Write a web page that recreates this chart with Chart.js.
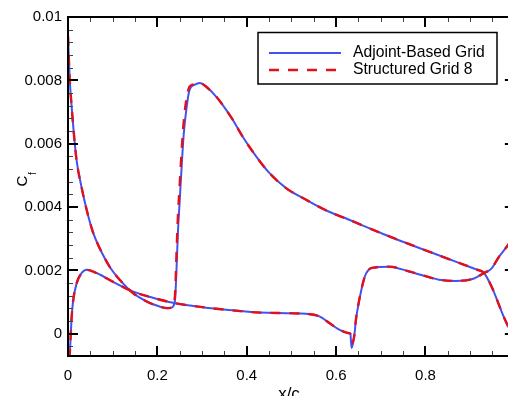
<!DOCTYPE html>
<html>
<head>
<meta charset="utf-8">
<script src="https://cdn.jsdelivr.net/npm/chart.js@4.4.1/dist/chart.umd.min.js"></script>
<style>
  html, body { margin: 0; padding: 0; background: #fff; overflow: hidden; }
  #wrap { width: 508px; height: 396px; overflow: hidden; position: relative; }
  #inner { position: absolute; left: 0; top: 0; width: 530px; height: 396px; }
</style>
</head>
<body>
<div id="wrap"><div id="inner"><canvas id="cf"></canvas></div></div>
<script>
// x/c stations and Cf values
const upperX = [0, 0.004, 0.008, 0.012, 0.019, 0.030, 0.042, 0.056, 0.071, 0.094, 0.116, 0.146, 0.176, 0.205, 0.222, 0.230, 0.236, 0.240, 0.243, 0.246, 0.250, 0.254, 0.259, 0.265, 0.272, 0.283, 0.295, 0.310, 0.332, 0.354, 0.369, 0.391, 0.421, 0.451, 0.488, 0.533, 0.577, 0.629, 0.704, 0.801, 0.875, 0.912, 0.931, 0.948, 0.963, 0.975, 1.0];
const upperAdjoint = [0.0094, 0.0080, 0.0072, 0.0065, 0.0055, 0.00465, 0.0039, 0.0032, 0.0027, 0.0021, 0.0017, 0.00128, 0.00102, 0.00086, 0.00081, 0.00082, 0.00088, 0.00115, 0.0021, 0.0032, 0.0042, 0.0052, 0.0063, 0.0071, 0.0077, 0.00786, 0.00792, 0.00779, 0.00748, 0.00707, 0.00675, 0.00622, 0.0056, 0.00507, 0.0046, 0.00423, 0.0039, 0.0036, 0.00316, 0.00263, 0.00224, 0.00204, 0.00192, 0.00149, 0.00097, 0.00054, -0.0002];
const upperStructured = [0.0094, 0.0080, 0.0072, 0.0065, 0.0055, 0.00465, 0.0039, 0.0032, 0.0027, 0.0021, 0.0017, 0.00128, 0.00102, 0.00086, 0.00081, 0.00082, 0.00090, 0.00135, 0.0026, 0.0037, 0.0047, 0.0057, 0.0067, 0.0074, 0.0078, 0.00788, 0.00792, 0.00779, 0.00748, 0.00707, 0.00675, 0.00622, 0.0056, 0.00507, 0.0046, 0.00423, 0.0039, 0.0036, 0.00316, 0.00263, 0.00224, 0.00204, 0.00192, 0.00149, 0.00097, 0.00054, -0.0002];

const lowerX = [0, 0.0045, 0.0083, 0.0118, 0.0194, 0.0306, 0.0417, 0.064, 0.101, 0.146, 0.190, 0.235, 0.280, 0.354, 0.429, 0.533, 0.5625, 0.585, 0.607, 0.629, 0.632, 0.6346, 0.6406, 0.6444, 0.652, 0.660, 0.667, 0.680, 0.719, 0.763, 0.815, 0.830, 0.868, 0.905, 0.931, 0.947, 0.965, 0.982, 1.0];
const lowerAdjoint = [-0.0014, -0.0005, 0.00055, 0.00107, 0.0016, 0.00192, 0.00202, 0.00192, 0.00164, 0.00133, 0.00114, 0.00098, 0.00088, 0.00076, 0.00067, 0.00063, 0.00055, 0.00034, 0.00013, 0.00002, 0.0, -0.00045, -0.00008, 0.00044, 0.00107, 0.0016, 0.0019, 0.00208, 0.00212, 0.00197, 0.00176, 0.00171, 0.00167, 0.00173, 0.00192, 0.00205, 0.00244, 0.00275, 0.0031];
const lowerStructured = [-0.0014, -0.0005, 0.00055, 0.00107, 0.0016, 0.00192, 0.00202, 0.00192, 0.00164, 0.00133, 0.00114, 0.00098, 0.00088, 0.00076, 0.00067, 0.00063, 0.00055, 0.00034, 0.00013, 0.00002, 0.0, -0.0003, -0.00006, 0.00046, 0.00109, 0.0016, 0.0019, 0.00208, 0.00212, 0.00197, 0.00176, 0.00171, 0.00167, 0.00173, 0.00192, 0.00205, 0.00244, 0.00275, 0.0031];

const seriesNames = ['Adjoint-Based Grid', 'Structured Grid 8'];
const xTickValues = [0, 0.2, 0.4, 0.6, 0.8, 1];
const yTickValues = [0, 0.002, 0.004, 0.006, 0.008, 0.01];

const BLUE = '#4352ee';
const RED = '#e3101c';
const FONT = '"Liberation Sans", Arial, sans-serif';

const pts = (xs, ys) => xs.map((x, i) => ({ x: x, y: ys[i] }));

function line(label, data, color, dash, order, inLegend) {
    return {
        label: label,
        data: data,
        showLine: true,
        borderColor: color,
        backgroundColor: color,
        borderWidth: dash ? 2.4 : 2,
        borderDash: dash || [],
        pointRadius: 0,
        cubicInterpolationMode: 'monotone',
        fill: false,
        order: order,
        inLegend: inLegend
    };
}

// frame, inward ticks (major + minor) on all four sides, axis titles, legend box
const tecplotFrame = {
    id: 'tecplotFrame',
    afterDraw(chart) {
        const ctx = chart.ctx;
        const a = chart.chartArea;
        const xs = chart.scales.x, ys = chart.scales.y;
        ctx.save();

        // minor ticks
        ctx.strokeStyle = '#444';
        ctx.lineWidth = 1;
        ctx.beginPath();
        for (let v = 0.05; v < 1; v += 0.05) {
            if (Math.abs(v / 0.2 - Math.round(v / 0.2)) < 1e-6) continue;
            const px = Math.round(xs.getPixelForValue(v)) + 0.5;
            ctx.moveTo(px, a.bottom); ctx.lineTo(px, a.bottom - 5);
            ctx.moveTo(px, a.top); ctx.lineTo(px, a.top + 5);
        }
        for (let k = -1; k < 25; k++) {
            if (k % 5 === 0) continue;
            const v = k * 0.0004;
            const py = Math.round(ys.getPixelForValue(v)) + 0.5;
            if (py > a.bottom || py < a.top) continue;
            ctx.moveTo(a.left, py); ctx.lineTo(a.left + 5, py);
            ctx.moveTo(a.right, py); ctx.lineTo(a.right - 5, py);
        }
        ctx.stroke();

        // major ticks
        ctx.strokeStyle = '#000';
        ctx.lineWidth = 2;
        ctx.beginPath();
        xTickValues.forEach(v => {
            const px = Math.round(xs.getPixelForValue(v));
            ctx.moveTo(px, a.bottom); ctx.lineTo(px, a.bottom - 10);
            ctx.moveTo(px, a.top); ctx.lineTo(px, a.top + 10);
        });
        yTickValues.forEach(v => {
            const py = Math.round(ys.getPixelForValue(v));
            ctx.moveTo(a.left, py); ctx.lineTo(a.left + 10, py);
            ctx.moveTo(a.right, py); ctx.lineTo(a.right - 10, py);
        });
        ctx.stroke();

        // frame
        ctx.strokeRect(a.left, a.top, a.right - a.left, a.bottom - a.top);

        // axis titles
        ctx.fillStyle = '#000';
        ctx.font = '17px ' + FONT;
        ctx.textAlign = 'center';
        ctx.textBaseline = 'alphabetic';
        ctx.fillText('x/c', 289, 399);

        ctx.save();
        ctx.translate(27, 181);
        ctx.rotate(-Math.PI / 2);
        ctx.font = '15px ' + FONT;
        ctx.fillText('C', 0, 0);
        ctx.textAlign = 'left';
        ctx.font = '10px ' + FONT;
        ctx.fillText('f', 6, 9);
        ctx.restore();

        // legend
        ctx.lineWidth = 1.5;
        ctx.strokeRect(258, 32.5, 239, 51.5);
        const entries = chart.data.datasets.filter(d => d.inLegend);
        entries.forEach((d, i) => {
            const y = 53 + i * 17;
            ctx.strokeStyle = d.borderColor;
            ctx.lineWidth = d.borderWidth;
            ctx.setLineDash(d.borderDash);
            ctx.beginPath();
            ctx.moveTo(269, y); ctx.lineTo(341, y);
            ctx.stroke();
            ctx.setLineDash([]);
            ctx.fillStyle = '#000';
            ctx.font = '15.7px ' + FONT;
            ctx.textAlign = 'left';
            ctx.textBaseline = 'middle';
            ctx.fillText(d.label, 353, y - 0.5);
        });
        ctx.restore();
    }
};

new Chart(document.getElementById('cf'), {
    type: 'scatter',
    data: {
        datasets: [
            line(seriesNames[0], pts(upperX, upperAdjoint), BLUE, null, 1, true),
            line(seriesNames[0], pts(lowerX, lowerAdjoint), BLUE, null, 1, false),
            line(seriesNames[1], pts(upperX, upperStructured), RED, [10, 9], 0, true),
            line(seriesNames[1], pts(lowerX, lowerStructured), RED, [10, 9], 0, false)
        ]
    },
    options: {
        responsive: true,
        maintainAspectRatio: false,
        devicePixelRatio: 1,
        animation: false,
        layout: { padding: { top: 17, right: 15, left: 0, bottom: 0 } },
        plugins: { legend: { display: false }, tooltip: { enabled: false } },
        scales: {
            x: {
                type: 'linear',
                min: 0,
                max: 1,
                grid: { display: false, drawTicks: false },
                border: { display: false },
                afterBuildTicks: s => { s.ticks = xTickValues.map(v => ({ value: v })); },
                afterFit: s => { s.height = 40; },
                ticks: {
                    padding: 11,
                    color: '#000',
                    font: { family: FONT, size: 15 },
                    maxRotation: 0,
                    autoSkip: false,
                    callback: v => String(v)
                }
            },
            y: {
                type: 'linear',
                min: -0.0007,
                max: 0.01,
                grid: { display: false, drawTicks: false },
                border: { display: false },
                afterBuildTicks: s => { s.ticks = yTickValues.map(v => ({ value: v })); },
                afterFit: s => { s.width = 68; },
                ticks: {
                    padding: 6,
                    color: '#000',
                    font: { family: FONT, size: 15 },
                    autoSkip: false,
                    callback: v => String(v)
                }
            }
        }
    },
    plugins: [tecplotFrame]
});
</script>
</body>
</html>
